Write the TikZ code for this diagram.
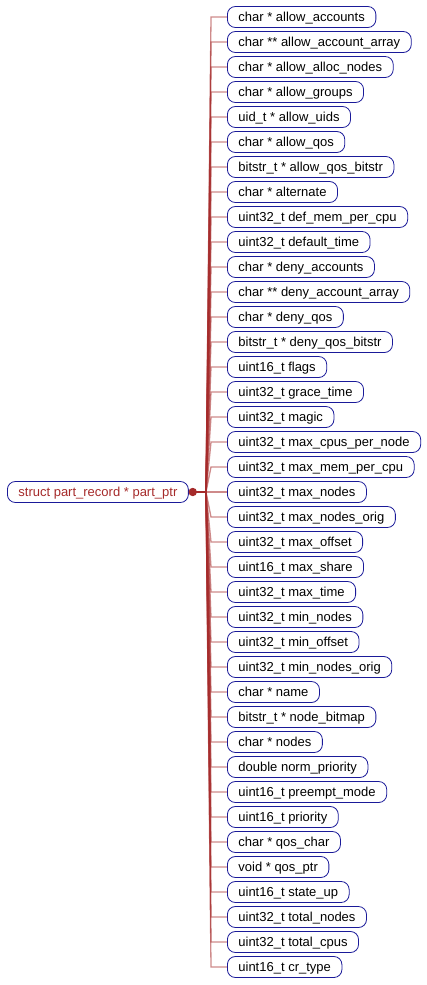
\documentclass[tikz,border=0pt]{standalone}
\usepackage{fontspec}
\setmainfont{Liberation Sans}
\definecolor{conn}{HTML}{A52A2A}
\definecolor{boxb}{HTML}{1A1A99}
\begin{document}
\begin{tikzpicture}[x=1pt,y=-1pt,
  field/.style={draw=boxb, line width=0.8pt, rounded corners=8pt, anchor=west,
    inner xsep=11pt, inner ysep=0pt, minimum height=21pt,
    text height=10.8pt, text depth=2pt, font=\fontsize{13}{15}\selectfont, text=black},
  rootbox/.style={field, text=conn},
  link/.style={draw=conn, line width=1.3pt, opacity=0.55},
  trunk/.style={draw=conn, line width=1.3pt}]
\useasboundingbox (0,0) rectangle (427,985);
\node[rootbox] (root) at (7,492) {struct part\_record * part\_ptr};
\coordinate (hub) at (206,492);
\foreach [count=\i] \t in {
char * allow\_accounts,
char ** allow\_account\_array,
char * allow\_alloc\_nodes,
char * allow\_groups,
uid\_t * allow\_uids,
char * allow\_qos,
bitstr\_t * allow\_qos\_bitstr,
char * alternate,
uint32\_t def\_mem\_per\_cpu,
uint32\_t default\_time,
char * deny\_accounts,
char ** deny\_account\_array,
char * deny\_qos,
bitstr\_t * deny\_qos\_bitstr,
uint16\_t flags,
uint32\_t grace\_time,
uint32\_t magic,
uint32\_t max\_cpus\_per\_node,
uint32\_t max\_mem\_per\_cpu,
uint32\_t max\_nodes,
uint32\_t max\_nodes\_orig,
uint32\_t max\_offset,
uint16\_t max\_share,
uint32\_t max\_time,
uint32\_t min\_nodes,
uint32\_t min\_offset,
uint32\_t min\_nodes\_orig,
char * name,
bitstr\_t * node\_bitmap,
char * nodes,
double norm\_priority,
uint16\_t preempt\_mode,
uint16\_t priority,
char * qos\_char,
void * qos\_ptr,
uint16\_t state\_up,
uint32\_t total\_nodes,
uint32\_t total\_cpus,
uint16\_t cr\_type}
{
  \pgfmathsetmacro{\yy}{17+25*(\i-1)}
  \node[field] (c\i) at (227,\yy) {\t};
  \draw[link] (hub) -- ([xshift=-16pt]c\i.west) -- (c\i.west);
}
\draw[trunk] (root.east) -- (hub);
\fill[conn] ([xshift=4pt]root.east) circle (4.2pt);
\end{tikzpicture}
\end{document}
